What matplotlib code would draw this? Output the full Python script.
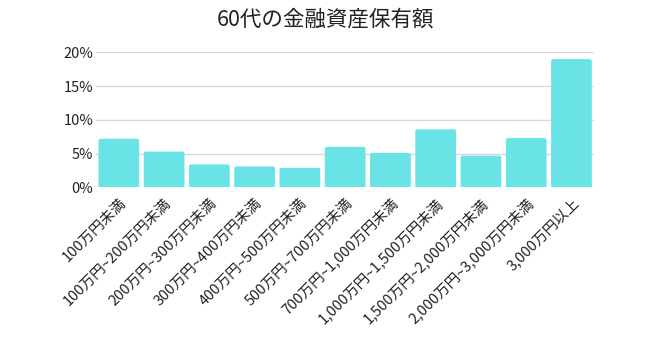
import matplotlib
matplotlib.use("Agg")
import matplotlib.pyplot as plt
from matplotlib.patches import FancyBboxPatch
from matplotlib.ticker import FuncFormatter

plt.rcParams['font.family'] = ['Noto Sans CJK JP', 'DejaVu Sans']

# data
categories = [
    "100万円未満", "100万円~200万円未満", "200万円~300万円未満",
    "300万円~400万円未満", "400万円~500万円未満", "500万円~700万円未満",
    "700万円~1,000万円未満", "1,000万円~1,500万円未満",
    "1,500万円~2,000万円未満", "2,000万円~3,000万円未満", "3,000万円以上",
]
share = [7.2, 5.3, 3.4, 3.1, 2.9, 6.0, 5.1, 8.6, 4.7, 7.3, 19.0]
yticks = [0, 5, 10, 15, 20]

fig = plt.figure(figsize=(6.5, 3.4), dpi=100)
ax = fig.add_axes([0.148, 0.449, 0.766, 0.397])

x = range(len(categories))
bars = ax.bar(x, share, width=0.9, color="#6ae3e7", zorder=3)

# swap plain bars for slightly rounded ones (bottom corners hidden below 0)
for b in bars:
    b.set_visible(False)
    p = FancyBboxPatch((b.get_x(), -0.5), b.get_width(), b.get_height() + 0.5,
                       boxstyle="round,pad=0,rounding_size=0.05",
                       mutation_aspect=6.5, facecolor="#6ae3e7",
                       edgecolor="none", zorder=3)
    ax.add_patch(p)

ax.set_xlim(-0.5, len(categories) - 0.5)
ax.set_ylim(0, 20)
ax.set_yticks(yticks)
ax.yaxis.set_major_formatter(FuncFormatter(lambda v, p: f"{v:.0f}%"))
ax.grid(axis="y", color="#d9d9d9", linewidth=1, zorder=0)
for s in ax.spines.values():
    s.set_visible(False)
ax.tick_params(length=0, labelsize=10.5, colors="#222222")
ax.tick_params(axis="y", pad=2)

ax.set_xticks(list(x))
ax.set_xticklabels(categories, rotation=45, ha="right", rotation_mode="anchor")
ax.tick_params(axis="x", pad=6)

fig.suptitle("60代の金融資産保有額", x=0.5, y=0.975, fontsize=15.5, color="#222222")

fig.savefig("out.png", dpi=100)
